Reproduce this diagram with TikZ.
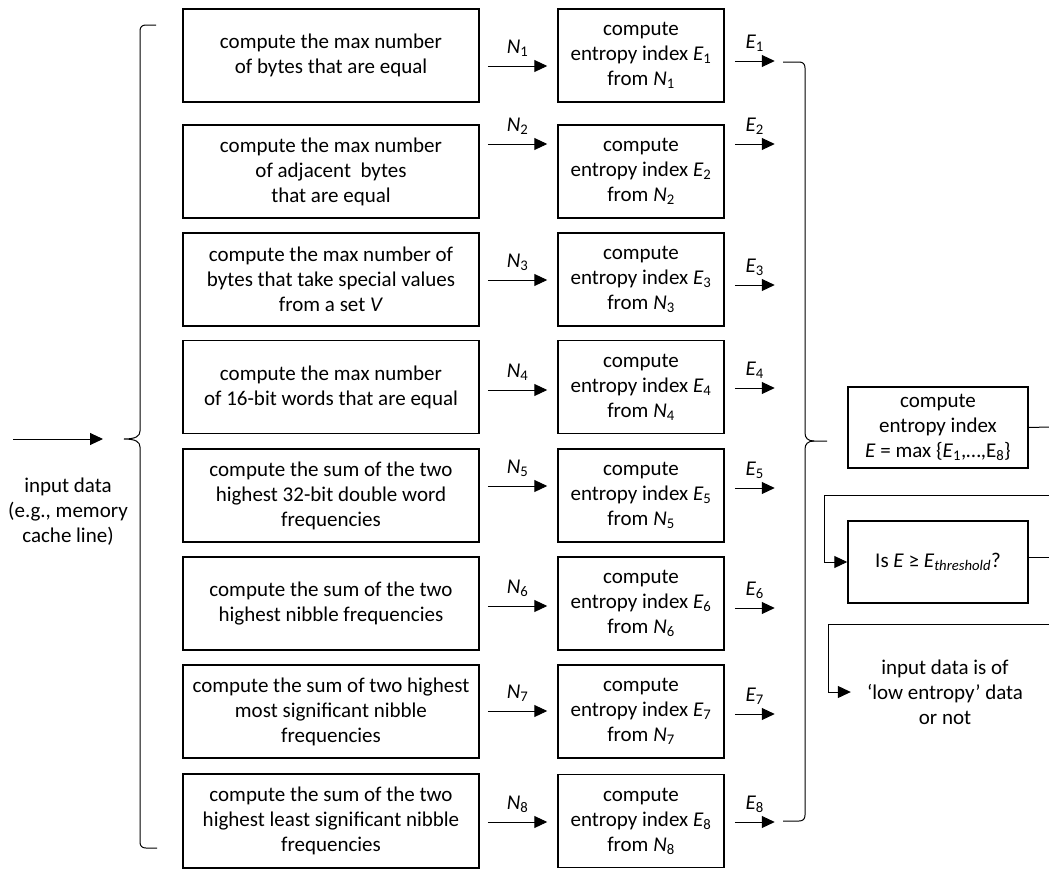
\documentclass[tikz,border=0pt]{standalone}
\usepackage{fontspec}
\setmainfont{Carlito}
\usetikzlibrary{arrows.meta,calc}
\begin{document}
\begin{tikzpicture}[x=1pt,y=-1pt,
  every node/.style={font=\fontsize{21}{25}\selectfont, align=center, inner sep=0pt},
  lbox/.style={draw, line width=1.5pt, minimum width=296pt, minimum height=93pt},
  mbox/.style={draw, line width=1.5pt, minimum width=166pt, minimum height=93pt},
  rbox/.style={draw, line width=1.5pt, minimum width=180pt, minimum height=82pt},
  arr/.style={line width=1pt, -{Triangle[length=13pt,width=12pt]}},
  ln/.style={line width=1pt},
  lab/.style={above=9pt}]
\useasboundingbox (0,0) rectangle (1049,870);

% left column boxes
\node[lbox] (l1) at (331,55.5) {compute the max number\\of bytes that are equal};
\node[lbox] (l2) at (331,171.5) {compute the max number\\of adjacent\ \ bytes\\that are equal};
\node[lbox] (l3) at (331,279.5) {compute the max number of\\bytes that take special values\\from a set \textit{V}};
\node[lbox] (l4) at (331,387) {compute the max number\\of 16-bit words that are equal};
\node[lbox] (l5) at (331,495.5) {compute the sum of the two\\highest 32-bit double word\\frequencies};
\node[lbox] (l6) at (331,603.5) {compute the sum of the two\\highest nibble frequencies};
\node[lbox] (l7) at (331,711.5) {compute the sum of two highest\\most significant nibble\\frequencies};
\node[lbox, minimum height=94pt] (l8) at (331,821) {compute the sum of the two\\highest least significant nibble\\frequencies};

% middle column boxes
\foreach \i/\c in {1/55.5,2/171.5,3/279.5,4/387,5/495.5,6/603.5,7/711.5,8/821}{
  \node[mbox] (m\i) at (641,\c) {compute\\entropy index \textit{E}\textsubscript{\i}\\from \textit{N}\textsubscript{\i}};
}

% arrows N_i and E_i
\foreach \i/\dn/\de in {1/10.5/5.5, 2/-27.5/-27.5, 3/0.5/5.5, 4/3/1, 5/-9.5/-7.5, 6/2.5/4.5, 7/-0.5/2.5, 8/1/1}{
  \draw[arr] ($(l\i.east)+(8,\dn)$) -- node[lab]{\textit{N}\textsubscript{\i}} ($(m\i.west)+(-10,\dn)$);
  \draw[arr] ($(m\i.east)+(10,\de)$) -- node[lab]{\textit{E}\textsubscript{\i}} ++(40,0);
}

% input
\node (in) at (68,512) {input data\\(e.g., memory\\cache line)};
\coordinate (instart) at (13,439);
\coordinate (lbtip) at (124,439);
\draw[arr, shorten >=21pt] (instart) -- (lbtip);

% left brace
\draw[ln] (156,25) -- (146,25) .. controls (142,25) and (140,27) .. (140,31)
  -- (140,431) .. controls (140,436) and (136,439) .. (lbtip)
  .. controls (136,439) and (140,442) .. (140,447)
  -- (140,842) .. controls (140,846) and (142,848) .. (146,848) -- (157,848);

% right brace
\coordinate (rbtip) at (827,441);
\draw[ln] (783,62) -- (799,62) .. controls (803,62) and (805,64) .. (805,68)
  -- (805,433) .. controls (805,438) and (808,441) .. (814,441) -- (rbtip);
\draw[ln] (814,441) .. controls (808,441) and (805,444) .. (805,449)
  -- (805,815) .. controls (805,819) and (803,821) .. (799,821) -- (783,821);

% right boxes
\node[rbox, minimum height=81pt] (ra) at (938,427.5) {compute\\entropy index\\\textit{E} = max \{\textit{E}\textsubscript{1},…,E\textsubscript{8}\}};
\node[rbox] (rb) at (938,562) {Is \textit{E} ≥ \textit{E}\textsubscript{\textit{threshold}}?};
\node (out) at (945,692) {input data is of\\‘low entropy’ data\\or not};

\coordinate (ea) at (1049,427);
\coordinate (fbin) at (1049,495);
\coordinate (eb) at (1049,557);
\coordinate (oin) at (1049,624);

\draw[ln] (ra.east) -- (ea);
\draw[arr] (fbin) -- (824,495) |- (rb.west);
\draw[ln] ($(rb.east)+(0,-5)$) -- (eb);
\draw[arr] (oin) -- (828,624) |- ([xshift=-16pt]out.west);
\end{tikzpicture}
\end{document}
